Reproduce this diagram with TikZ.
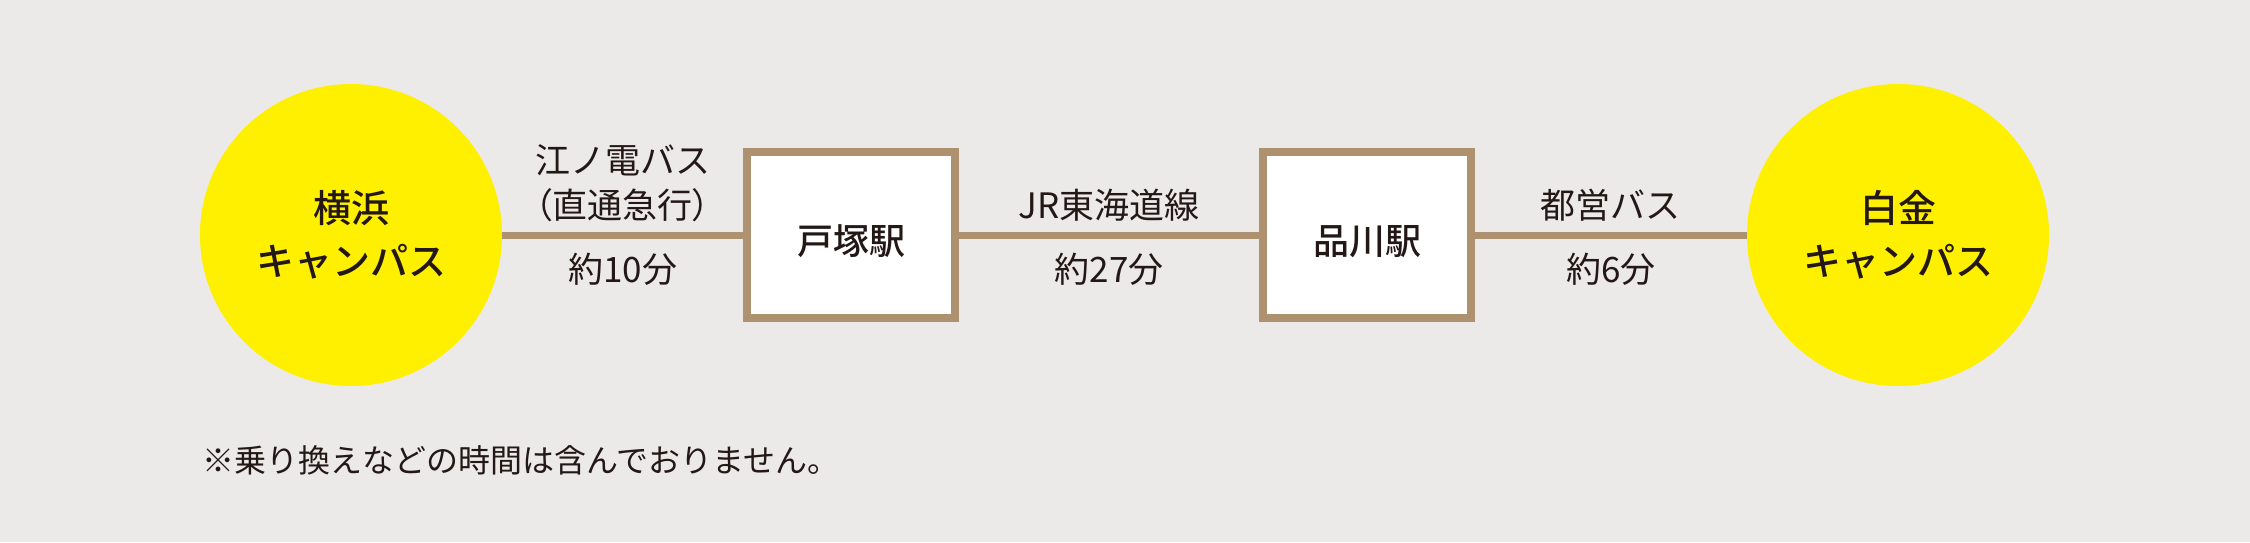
\documentclass[tikz,border=0pt]{standalone}
\usepackage{fontspec}
\newfontfamily\jp{Noto Sans CJK JP}
\newfontfamily\jpm{Noto Sans CJK JP}[UprightFont={* Medium}]
\newfontfamily\jpp[RawFeature=+palt]{Noto Sans CJK JP}
\definecolor{bgc}{RGB}{235,234,232}
\definecolor{yel}{RGB}{255,240,0}
\definecolor{brn}{RGB}{174,146,111}
\definecolor{ink}{RGB}{35,24,21}
\tikzset{
  campus/.style={circle, fill=yel, minimum size=302pt, inner sep=0pt, align=center,
    font=\jpm\fontsize{38pt}{53pt}\selectfont, text=ink},
  station/.style={rectangle, draw=brn, line width=8pt, fill=white,
    minimum width=208pt, minimum height=166pt, inner sep=0pt,
    text height=38.4pt, text depth=0pt,
    font=\jpm\fontsize{36pt}{40pt}\selectfont, text=ink},
  conn/.style={draw=brn, line width=7pt},
  lbl/.style={anchor=base, inner sep=0pt, font=\jp\fontsize{35pt}{40pt}\selectfont, text=ink},
  note/.style={anchor=base west, inner sep=0pt, font=\jp\fontsize{32pt}{36pt}\selectfont, text=ink}
}
\begin{document}
\begin{tikzpicture}[x=1pt,y=-1pt]
\fill[bgc] (0,0) rectangle (2250,542);
\useasboundingbox (0,0) rectangle (2250,542);
\node[campus] (yoko) at (351,235) {横浜\\キャンパス};
\node[station] (tots) at (851,235) {戸塚駅};
\node[station] (shin) at (1367,235) {品川駅};
\node[campus] (shir) at (1898,235) {白金\\キャンパス};
\path[conn] (yoko) -- node[lbl, yshift=62pt] (l1a) {江ノ電バス}
                      node[lbl, yshift=17pt] (l1b) {{\jpp （}直通急行{\jpp ）}}
                      node[lbl, yshift=-47pt] (l1c) {約10分} (tots);
\path[conn] (tots) -- node[lbl, yshift=17pt] (l2a) {JR東海道線}
                      node[lbl, yshift=-47pt] (l2b) {約27分} (shin);
\path[conn] (shin) -- node[lbl, yshift=17pt] (l3a) {都営バス}
                      node[lbl, yshift=-47pt] (l3b) {約6分} (shir);
\node[note] (note) at (202,472) {※乗り換えなどの時間は含んでおりません。};
\end{tikzpicture}
\end{document}
